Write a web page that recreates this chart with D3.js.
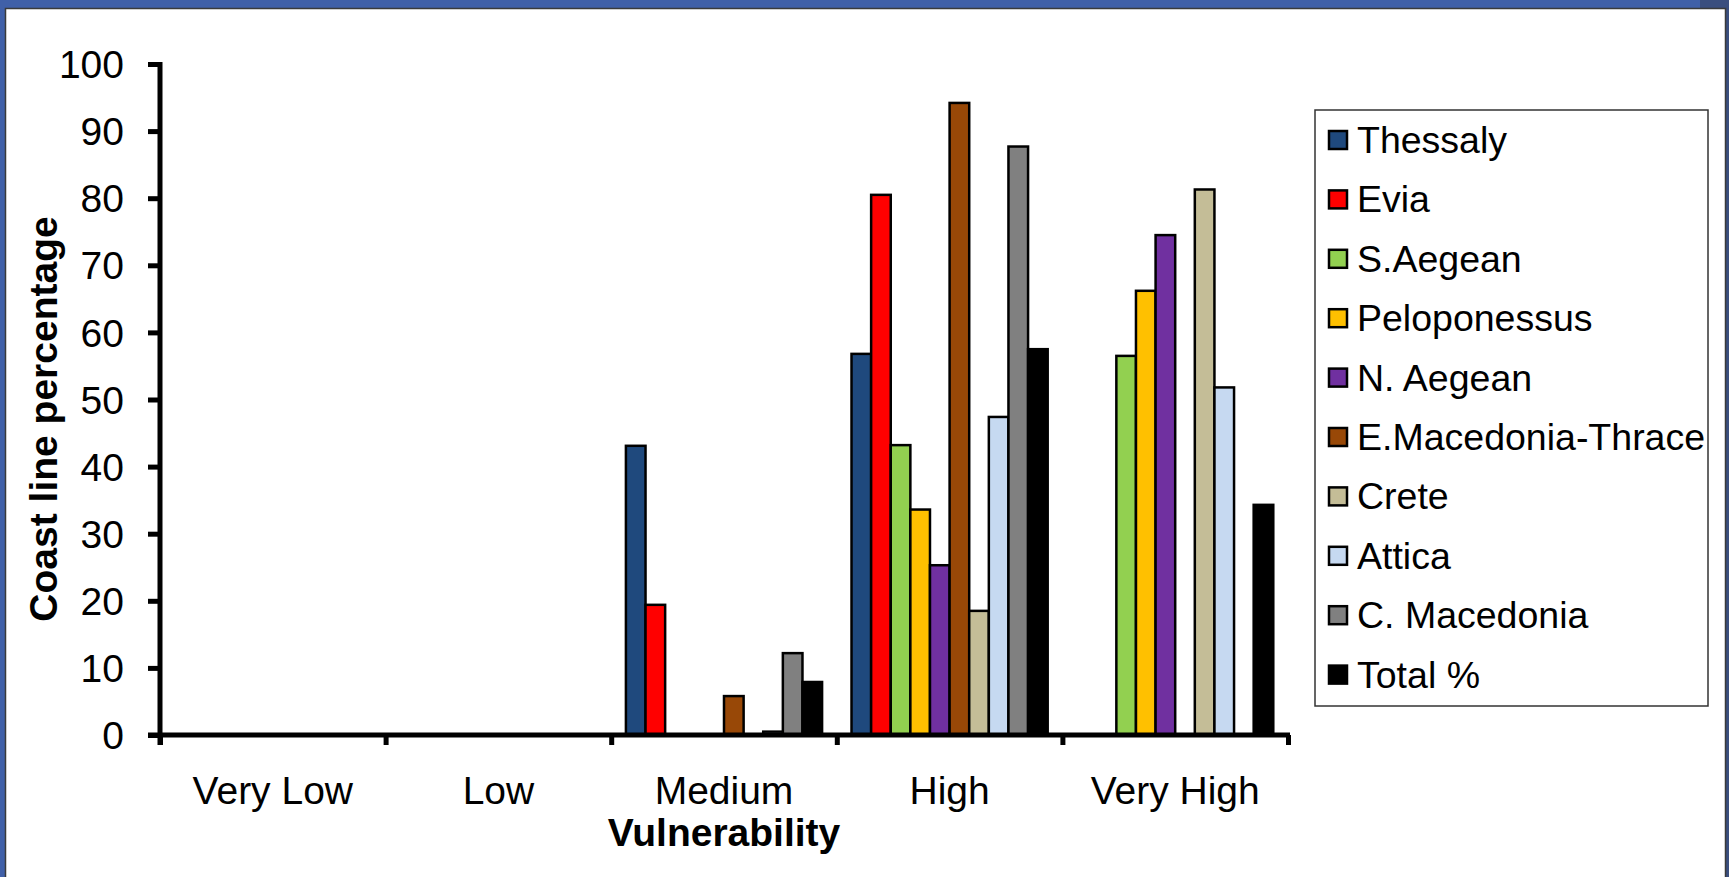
<!DOCTYPE html>
<html>
<head>
<meta charset="utf-8">
<script src="https://cdn.jsdelivr.net/npm/d3@7"></script>
<style>
  html, body { margin: 0; padding: 0; background: #4060A8; }
  svg { display: block; }
  text { font-family: "Liberation Sans", Arial, sans-serif; fill: #000; }
</style>
</head>
<body>
<svg id="chart" width="1729" height="877"></svg>
<script>
const categories = ["Very Low", "Low", "Medium", "High", "Very High"];
const seriesNames = ["Thessaly", "Evia", "S.Aegean", "Peloponessus", "N. Aegean",
  "E.Macedonia-Thrace", "Crete", "Attica", "C. Macedonia", "Total %"];
const seriesColors = ["#1F497D", "#FF0000", "#92D050", "#FFC000", "#7030A0",
  "#984807", "#C4BD97", "#C6D9F1", "#808080", "#000000"];

const thessaly     = [0, 0, 43.1, 56.8, 0];
const evia         = [0, 0, 19.4, 80.5, 0];
const sAegean      = [0, 0, 0, 43.2, 56.5];
const peloponessus = [0, 0, 0, 33.6, 66.2];
const nAegean      = [0, 0, 0, 25.3, 74.5];
const eMacThrace   = [0, 0, 5.8, 94.2, 0];
const crete        = [0, 0, 0, 18.5, 81.3];
const attica       = [0, 0, 0.5, 47.4, 51.8];
const cMacedonia   = [0, 0, 12.2, 87.7, 0];
const total        = [0, 0, 7.9, 57.5, 34.3];
const seriesValues = [thessaly, evia, sAegean, peloponessus, nAegean,
  eMacThrace, crete, attica, cMacedonia, total];
const yTicks = [0, 10, 20, 30, 40, 50, 60, 70, 80, 90, 100];

const svg = d3.select("#chart");

// frame
svg.append("rect").attr("x", 0).attr("y", 0).attr("width", 1729).attr("height", 877).attr("fill", "#4060A8");
svg.append("rect").attr("x", 1700).attr("y", 0).attr("width", 29).attr("height", 877).attr("fill", "#3A4E7E");
svg.append("rect").attr("x", 5.5).attr("y", 8.5).attr("width", 1720).attr("height", 880)
  .attr("fill", "#FFFFFF").attr("stroke", "#3a3a3a").attr("stroke-width", 1.5);

const plotLeft = 160, plotRight = 1288, plotTop = 64, plotBottom = 735;

const x = d3.scaleBand().domain(categories).range([plotLeft, plotRight]).paddingInner(0).paddingOuter(0);
const xEdges = d3.scaleLinear().domain([0, categories.length]).range([plotLeft, plotRight]);
const y = d3.scaleLinear().domain([0, 100]).range([plotBottom, plotTop]);

const nS = seriesNames.length;
const bw = x.bandwidth() / (nS + 1.5);

// bars
const barData = [];
seriesValues.forEach((vals, si) => {
  vals.forEach((v, ci) => {
    if (v > 0) barData.push({ si, ci, v });
  });
});
svg.append("g").selectAll("rect").data(barData).join("rect")
  .attr("x", d => x(categories[d.ci]) + 0.75 * bw + d.si * bw)
  .attr("y", d => y(d.v))
  .attr("width", bw)
  .attr("height", d => y(0) - y(d.v))
  .attr("fill", d => seriesColors[d.si])
  .attr("stroke", "#000")
  .attr("stroke-width", 2.5);

// y axis
const yAxis = d3.axisLeft(y).tickValues(yTicks).tickSize(12).tickSizeOuter(0).tickPadding(24);
const gy = svg.append("g").attr("transform", `translate(${plotLeft},0)`).call(yAxis);
gy.select(".domain").attr("stroke", "#000").attr("stroke-width", 5).attr("d", `M0,${plotTop - 2}V${plotBottom + 10}`);
gy.selectAll(".tick line").attr("stroke", "#000").attr("stroke-width", 5);
gy.selectAll(".tick text").attr("font-size", 39).attr("font-family", "Liberation Sans, Arial, sans-serif")
  .attr("fill", "#000").attr("dy", "0.35em");

// x axis (boundary ticks)
const xAxis = d3.axisBottom(xEdges).tickValues(d3.range(categories.length + 1)).tickSize(10).tickSizeOuter(0).tickFormat("");
const gx = svg.append("g").attr("transform", `translate(0,${plotBottom})`).call(xAxis);
gx.select(".domain").attr("stroke", "#000").attr("stroke-width", 5).attr("d", `M${plotLeft - 12},0H${plotRight + 2}`);
gx.selectAll(".tick line").attr("stroke", "#000").attr("stroke-width", 5);

// category labels
svg.append("g").selectAll("text").data(categories).join("text")
  .attr("x", d => x(d) + x.bandwidth() / 2)
  .attr("y", 804)
  .attr("text-anchor", "middle")
  .attr("font-size", 39)
  .text(d => d);

// axis titles
svg.append("text").attr("x", (plotLeft + plotRight) / 2).attr("y", 846)
  .attr("text-anchor", "middle").attr("font-size", 39).attr("font-weight", "bold")
  .text("Vulnerability");
svg.append("text").attr("transform", "translate(57,419) rotate(-90)")
  .attr("text-anchor", "middle").attr("font-size", 39).attr("font-weight", "bold")
  .text("Coast line percentage");

// legend
const legend = svg.append("g");
legend.append("rect").attr("x", 1315).attr("y", 110).attr("width", 393).attr("height", 596)
  .attr("fill", "#fff").attr("stroke", "#333").attr("stroke-width", 1.5);
const items = legend.selectAll("g.item").data(seriesNames).join("g").attr("class", "item")
  .attr("transform", (d, i) => `translate(0,${153 + i * 59.4})`);
items.append("rect").attr("x", 1329).attr("y", -22).attr("width", 18).attr("height", 18)
  .attr("fill", (d, i) => seriesColors[i]).attr("stroke", "#000").attr("stroke-width", 2.5);
items.append("text").attr("x", 1357).attr("y", 0).attr("font-size", 37.5).text(d => d);
</script>
</body>
</html>
